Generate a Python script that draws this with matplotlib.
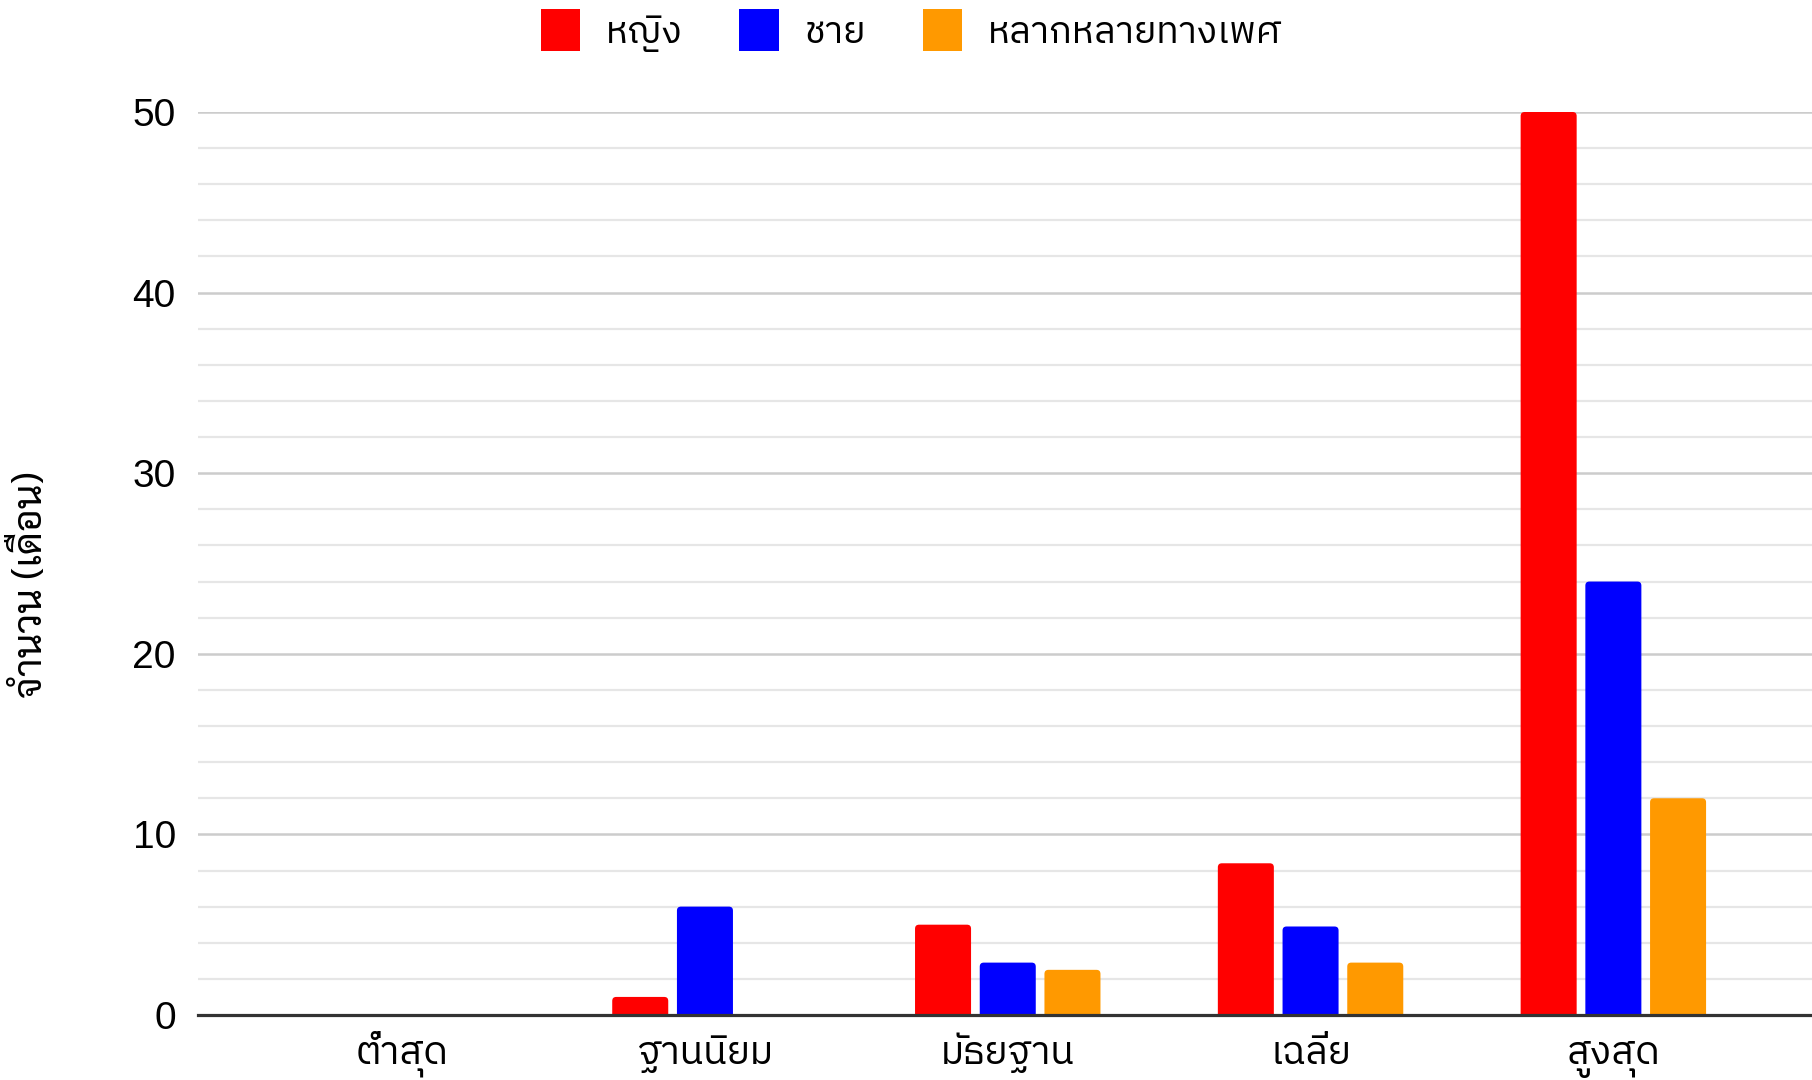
import numpy as np
import matplotlib
matplotlib.use("Agg")
import matplotlib.pyplot as plt
from matplotlib.patches import Patch, FancyBboxPatch

# ค่าสถิติของแต่ละกลุ่ม (หน่วย: เดือน)
categories = ["ต่ำสุด", "ฐานนิยม", "มัธยฐาน", "เฉลี่ย", "สูงสุด"]
female = [0, 1, 5, 8.4, 50]
male = [0, 6, 2.9, 4.9, 24]
diverse = [0, 0, 2.5, 2.9, 12]
series_names = ["หญิง", "ชาย", "หลากหลายทางเพศ"]
colors = ["#ff0000", "#0000ff", "#ff9900"]

THAI = ["IBM Plex Sans Thai", "DejaVu Sans"]
THAI_LOOPED = ["Sarabun", "DejaVu Sans"]
LATIN = "Liberation Sans"

fig = plt.figure(figsize=(18.12, 10.8), dpi=100)
ax = fig.add_axes([0.1093, 0.0602, 0.8907, 0.8361])

x = np.arange(len(categories))
width = 0.185
step = 0.2137
ax.set_xlim(-0.674, 4.656)
ax.set_ylim(0, 50)

# bar ends slightly rounded; aspect converts x-units to y-units
px_x = 1614 / (4.656 + 0.674)
px_y = 903 / 50
for i, (vals, col) in enumerate(zip([female, male, diverse], colors)):
    bars = ax.bar(x + (i - 1) * step, vals, width=width, color=col, zorder=3)
    for rect in bars:
        h = rect.get_height()
        rect.remove()
        if h <= 0:
            continue
        fb = FancyBboxPatch((rect.get_x(), -0.5), rect.get_width(), h + 0.5,
                            boxstyle="round,pad=0,rounding_size=%f" % (4 / px_x),
                            mutation_aspect=px_x / px_y,
                            facecolor=col, edgecolor="none", zorder=3)
        ax.add_patch(fb)

ax.set_yticks(np.arange(0, 51, 10))
ax.set_yticks(np.arange(0, 51, 2), minor=True)
ax.grid(axis="y", which="major", color="#cccccc", linewidth=1.8, zorder=0)
ax.grid(axis="y", which="minor", color="#e6e6e6", linewidth=1.6, zorder=0)
ax.axhline(0, color="#333333", linewidth=2.3, zorder=4, clip_on=False)

for side in ["top", "right", "left", "bottom"]:
    ax.spines[side].set_visible(False)

ax.tick_params(axis="both", which="both", length=0)
ax.tick_params(axis="y", pad=16)
ax.tick_params(axis="x", pad=35)
for lbl in ax.get_yticklabels():
    lbl.set_fontfamily(LATIN)
    lbl.set_fontsize(28)
ax.set_xticks(x)
ax.set_xticklabels(categories, family=THAI, fontsize=28, va="baseline")

ax.set_ylabel("จำนวน (เดือน)", family=THAI_LOOPED, fontsize=28, va="center")
ax.yaxis.set_label_coords(-0.1035, 0.477)

handles = [Patch(facecolor=c, edgecolor="none") for c in colors]
fig.legend(handles, series_names, loc="center", bbox_to_anchor=(0.503, 0.972),
           ncol=3, frameon=False, prop={"family": THAI, "size": 27},
           handlelength=1.05, handleheight=1.35, handletextpad=0.7,
           columnspacing=1.5)

fig.savefig("out.png", dpi=100)
